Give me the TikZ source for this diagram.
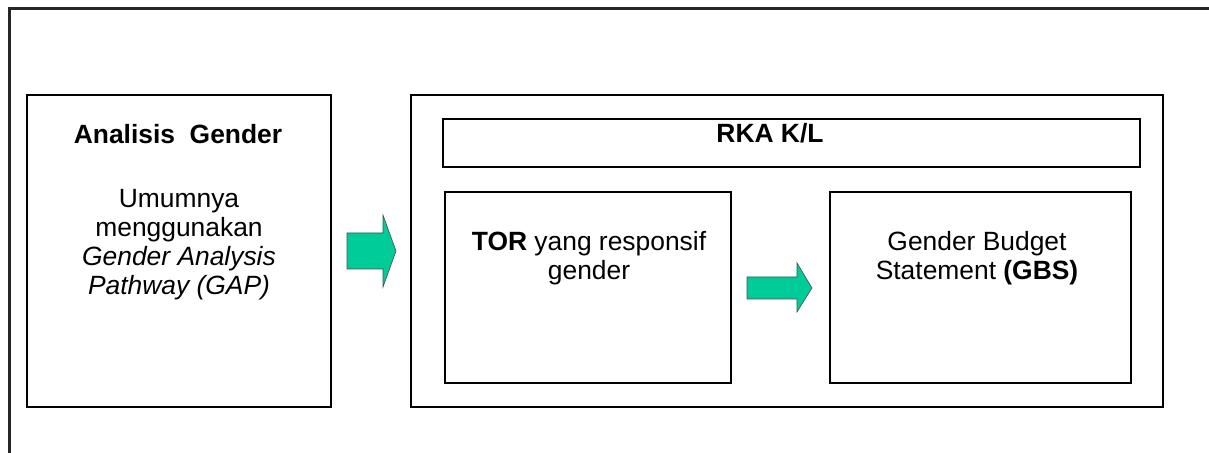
\documentclass[tikz,border=0pt]{standalone}
\usepackage{fontspec}
\setmainfont{Liberation Sans}
\usetikzlibrary{positioning}

\definecolor{panahhijau}{RGB}{0,204,153}

\begin{document}
\begin{tikzpicture}[x=0.5pt, y=-0.5pt,
    kotak/.style={draw, line width=0.6pt, inner sep=0pt},
    kotaktebal/.style={draw, line width=1.2pt, inner sep=0pt},
    teks/.style={font=\fontsize{13.2}{14.6}\selectfont, align=center, inner sep=0pt},
    panah/.style={fill=panahhijau, draw=black!70, line width=0.3pt}]
  \useasboundingbox (0,0) rectangle (1209,453);

  % bingkai luar (hanya atas dan kiri)
  \draw[line width=1.5pt, black!85] (9,453) -- (9,9) -- (1209,9);

  % kotak kiri dan kotak RKA
  \node[kotak, minimum width=152pt, minimum height=156pt] (gap) at (179,251) {};
  \node[kotak, minimum width=376pt, minimum height=156pt] (rka) at (787,251) {};
  \node[kotak, minimum width=348.5pt, minimum height=24pt] (judul) at (791.5,143) {};
  \node[kotaktebal, minimum width=143pt, minimum height=95.5pt] (tor) at (588,287.5) {};
  \node[kotaktebal, minimum width=150.5pt, minimum height=95.5pt] (gbs) at (980.5,287.5) {};

  % teks (anchor base = baris terakhir)
  \node[teks, anchor=base] (gapjudul) at (178,144) {\textbf{Analisis\ \ Gender}};
  \node[teks, anchor=base] (gapisi) at (179,295)
    {Umumnya\\menggunakan\\\textit{Gender Analysis}\\\textit{Pathway (GAP)}};
  \node[teks, anchor=base] (rkateks) at (770,143) {\textbf{RKA K/L}};
  \node[teks, anchor=base] (torteks) at (589,280) {\textbf{TOR} yang responsif\\gender};
  \node[teks, anchor=base] (gbsteks) at (977,280) {Gender Budget\\Statement \textbf{(GBS)}};

  % panah blok
  \draw[panah] (347,233) -- (383,233) -- (383,215) -- (396,251)
    -- (383,287) -- (383,269) -- (347,269) -- cycle;
  \draw[panah] (747,277) -- (797,277) -- (797,263) -- (812,288)
    -- (797,312) -- (797,299) -- (747,299) -- cycle;
\end{tikzpicture}
\end{document}
